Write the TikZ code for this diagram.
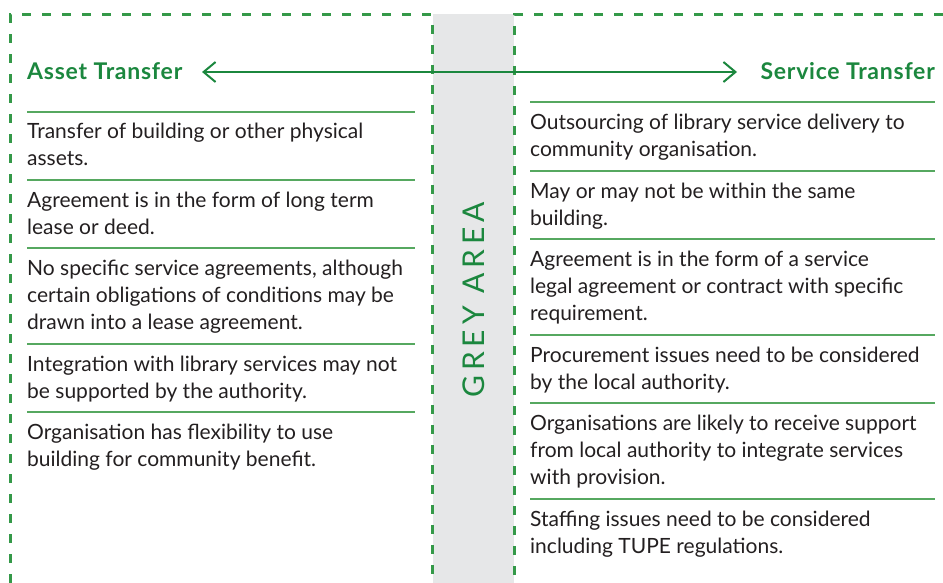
\documentclass[tikz,border=0pt]{standalone}
\usepackage{fontspec}
\setmainfont{Lato}
\usetikzlibrary{arrows.meta}
\definecolor{dashgreen}{RGB}{52,153,72}
\definecolor{titlegreen}{RGB}{27,135,62}
\definecolor{rulegreen}{RGB}{86,168,96}
\definecolor{greyfill}{RGB}{230,231,232}
\definecolor{bodytext}{RGB}{35,31,32}
\newcommand\topstrutx{\rule{0pt}{20pt}}
\begin{document}
\begin{tikzpicture}[x=1pt,y=-1pt,
  frame/.style={draw=dashgreen, line width=3pt, dash pattern=on 9pt off 11pt},
  sep/.style={draw=rulegreen, line width=1.5pt},
  item/.style={anchor=north west, inner sep=0pt, align=left, text=bodytext, font=\fontsize{21}{27}\selectfont},
  title/.style={inner sep=0pt, text=titlegreen, font=\fontsize{23}{27}\selectfont\bfseries\addfontfeatures{LetterSpace=3.3}},
  greytext/.style={inner sep=0pt, text=titlegreen, rotate=90, font=\fontsize{30}{34}\selectfont\addfontfeatures{LetterSpace=16}},
  biarrow/.style={draw=titlegreen, line width=2pt, {Straight Barb[length=12pt,width=20pt]}-{Straight Barb[length=12pt,width=20pt]}}
]
\useasboundingbox (0,0) rectangle (943,583);
% grey column
\fill[greyfill] (433,14) rectangle (514,583);
% dashed frames
\draw[frame] (10,583) -- (10,15) -- (432,15) -- (432,583);
\draw[frame] (943,15) -- (514,15) -- (514,583);
% separators left
\foreach \yy in {112,180,248,344,412} \draw[sep] (27,\yy) -- (415,\yy);
% separators right
\foreach \yy in {102,171,239,335,403,499} \draw[sep] (530,\yy) -- (935,\yy);
% titles
\node[title, anchor=base west] (asset) at (27,80) {Asset Transfer};
\node[title, anchor=base east] (service) at (935,80) {Service Transfer};
\coordinate (arrL) at (202,72);
\coordinate (arrR) at (737,72);
\draw[biarrow] (arrL) -- (arrR);
% grey area
\node[greytext] (grey) at (474,300) {GREY AREA};
% left items
\node[item] (l1) at (27,118) {\topstrutx Transfer of building or other physical\\assets.};
\node[item] (l2) at (27,187) {\topstrutx Agreement is in the form of long term\\lease or deed.};
\node[item] (l3) at (27,255) {\topstrutx No specific service agreements, although\\certain obligations of conditions may be\\drawn into a lease agreement.};
\node[item] (l4) at (27,351) {\topstrutx Integration with library services may not\\be supported by the authority.};
\node[item] (l5) at (27,419) {\topstrutx Organisation has flexibility to use\\building for community benefit.};
% right items
\node[item] (r1) at (530,109) {\topstrutx Outsourcing of library service delivery to\\community organisation.};
\node[item] (r2) at (530,178) {\topstrutx May or may not be within the same\\building.};
\node[item] (r3) at (530,246) {\topstrutx Agreement is in the form of a service\\legal agreement or contract with specific\\requirement.};
\node[item] (r4) at (530,342) {\topstrutx Procurement issues need to be considered\\by the local authority.};
\node[item] (r5) at (530,410) {\topstrutx Organisations are likely to receive support\\from local authority to integrate services\\with provision.};
\node[item] (r6) at (530,506) {\topstrutx Staffing issues need to be considered\\including TUPE regulations.};
\end{tikzpicture}
\end{document}
